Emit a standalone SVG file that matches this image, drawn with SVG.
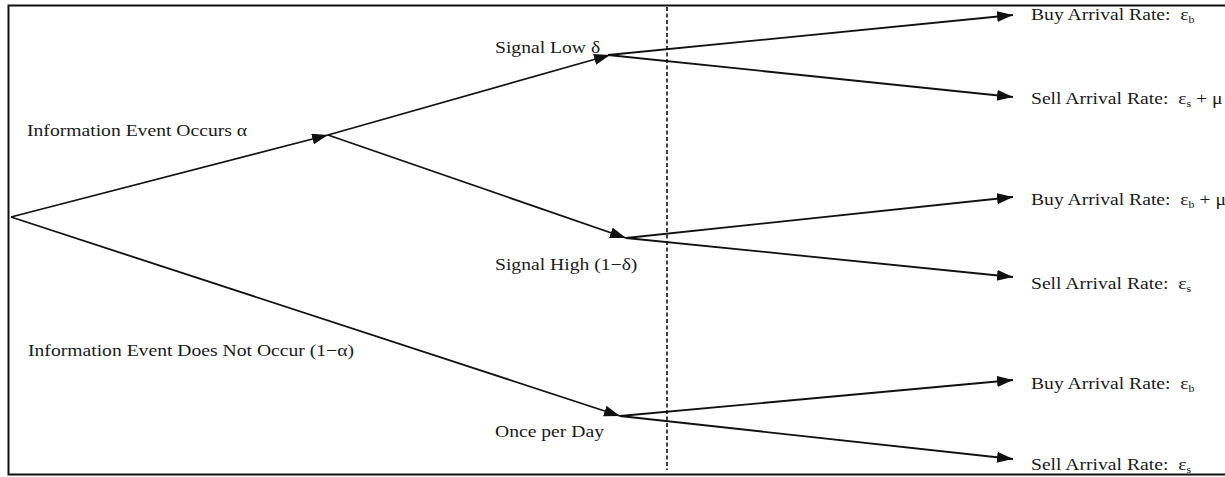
<svg xmlns="http://www.w3.org/2000/svg" width="1225" height="477" viewBox="0 0 1225 477">
<style>
.lbl{font-family:"Liberation Serif","Times New Roman",serif;font-size:16.5px;fill:#1a1a1a;white-space:pre}
.sub{font-size:10px}
.edge{stroke:#111;stroke-width:1.8;fill:none}
.arr{marker-end:url(#ah)}
.dash{stroke:#111;stroke-width:1.6;stroke-dasharray:4 2.5;fill:none}
</style>
<defs>
<marker id="ah" markerUnits="userSpaceOnUse" markerWidth="18" markerHeight="12" refX="16" refY="5.5" orient="auto">
<path d="M0,0 L16,5.5 L0,11 z" fill="#111"/>
</marker>
</defs>
<rect x="0" y="0" width="1225" height="477" fill="#fff"/>
<rect x="8.5" y="5.5" width="1235" height="469" fill="none" stroke="#111" stroke-width="2"/>
<g id="connectors">
<line class="dash" x1="667" y1="7" x2="667" y2="470"/>
<line class="edge arr" x1="11" y1="217" x2="328" y2="135"/>
<line class="edge arr" x1="11" y1="217" x2="620" y2="416"/>
<line class="edge arr" x1="328" y1="135" x2="610" y2="55"/>
<line class="edge arr" x1="328" y1="135" x2="626" y2="238"/>
<line class="edge arr" x1="608" y1="55" x2="1013" y2="15"/>
<line class="edge arr" x1="608" y1="55" x2="1013" y2="97"/>
<line class="edge arr" x1="626" y1="238" x2="1013" y2="197"/>
<line class="edge arr" x1="626" y1="238" x2="1013" y2="277"/>
<line class="edge arr" x1="620" y1="416" x2="1013" y2="380"/>
<line class="edge arr" x1="620" y1="416" x2="1013" y2="459"/>
</g>
<g id="branch-occurs"><text class="lbl" transform="translate(27,136) scale(1.19,1)">Information Event Occurs α</text></g>
<g id="branch-not-occurs"><text class="lbl" transform="translate(28,356) scale(1.19,1)">Information Event Does Not Occur (1−α)</text></g>
<g id="node-signal-low"><text class="lbl" transform="translate(495,53) scale(1.19,1)">Signal Low δ</text></g>
<g id="node-signal-high"><text class="lbl" transform="translate(495,270) scale(1.19,1)">Signal High (1−δ)</text></g>
<g id="node-once-per-day"><text class="lbl" transform="translate(495,437) scale(1.19,1)">Once per Day</text></g>
<g id="leaf-1"><text class="lbl" transform="translate(1031,20) scale(1.19,1)">Buy Arrival Rate:  ε<tspan class="sub" dy="3">b</tspan></text></g>
<g id="leaf-2"><text class="lbl" transform="translate(1031,104) scale(1.19,1)">Sell Arrival Rate:  ε<tspan class="sub" dy="3">s</tspan><tspan dy="-3"> + μ</tspan></text></g>
<g id="leaf-3"><text class="lbl" transform="translate(1031,205) scale(1.19,1)">Buy Arrival Rate:  ε<tspan class="sub" dy="3">b</tspan><tspan dy="-3"> + μ</tspan></text></g>
<g id="leaf-4"><text class="lbl" transform="translate(1031,289) scale(1.19,1)">Sell Arrival Rate:  ε<tspan class="sub" dy="3">s</tspan></text></g>
<g id="leaf-5"><text class="lbl" transform="translate(1031,389) scale(1.19,1)">Buy Arrival Rate:  ε<tspan class="sub" dy="3">b</tspan></text></g>
<g id="leaf-6"><text class="lbl" transform="translate(1031,470) scale(1.19,1)">Sell Arrival Rate:  ε<tspan class="sub" dy="3">s</tspan></text></g>
</svg>
